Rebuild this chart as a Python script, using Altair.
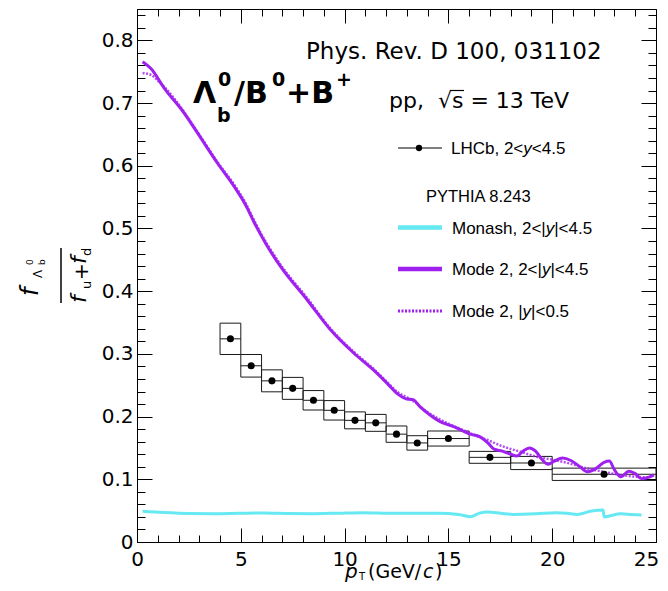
import altair as alt
import pandas as pd

# ---------------- data ----------------
lhcb_pt = [4.5, 5.5, 6.5, 7.5, 8.5, 9.5, 10.5, 11.5, 12.5, 13.5, 15, 17, 19, 22.5]
lhcb_lo = [4, 5, 6, 7, 8, 9, 10, 11, 12, 13, 14, 16, 18, 20]
lhcb_hi = [5, 6, 7, 8, 9, 10, 11, 12, 13, 14, 16, 18, 20, 25]
lhcb_val = [0.324, 0.281, 0.257, 0.245, 0.226, 0.210, 0.194, 0.190, 0.172, 0.158, 0.165, 0.135, 0.126, 0.108]
lhcb_syst = [0.025, 0.018, 0.0175, 0.0175, 0.0155, 0.0155, 0.0135, 0.0135, 0.013, 0.0115, 0.012, 0.0095, 0.0105, 0.0098]

mode2_fwd_pt = [0.27, 0.67, 1.31, 2.27, 2.92, 3.88, 4.68, 5.24, 5.64, 6.2, 6.92, 8.2, 9.33, 10.45, 11.4,
                12.05, 12.6, 13.0, 13.3, 13.65, 14.1, 14.6, 15.25, 16.06, 16.5, 16.9, 17.2, 17.6, 18.0,
                18.3, 18.6, 18.9, 19.2, 19.5, 19.8, 20.1, 20.5, 20.9, 21.3, 21.7, 22.1, 22.5, 22.75,
                23.0, 23.3, 23.7, 24.0, 24.3, 24.7, 24.9]
mode2_fwd_val = [0.766, 0.755, 0.724, 0.684, 0.652, 0.604, 0.567, 0.537, 0.510, 0.476, 0.439, 0.386, 0.338,
                 0.301, 0.274, 0.253, 0.235, 0.228, 0.227, 0.215, 0.203, 0.192, 0.184, 0.172, 0.168, 0.158,
                 0.148, 0.145, 0.140, 0.137, 0.145, 0.150, 0.145, 0.132, 0.124, 0.129, 0.134, 0.130, 0.121,
                 0.112, 0.117, 0.127, 0.129, 0.115, 0.104, 0.113, 0.109, 0.101, 0.104, 0.107]

mode2_cen_pt = [0.27, 0.67, 1.0, 1.31, 2.27, 2.92, 3.88, 4.68, 5.24, 5.64, 6.2, 6.92, 8.2, 9.33, 10.45,
                11.4, 12.05, 12.6, 13.0, 13.3, 14.0, 14.8, 15.6, 16.3, 16.86, 17.66, 18.46, 19.26, 20.06,
                20.87, 21.67, 22.47, 23.27, 24.07, 24.7]
mode2_cen_val = [0.748, 0.745, 0.736, 0.726, 0.686, 0.654, 0.606, 0.570, 0.540, 0.513, 0.479, 0.442, 0.389,
                 0.340, 0.303, 0.276, 0.255, 0.238, 0.231, 0.225, 0.207, 0.192, 0.180, 0.170, 0.163, 0.152,
                 0.144, 0.136, 0.131, 0.125, 0.1175, 0.112, 0.107, 0.104, 0.103]

monash_pt = [0.27, 1.3, 2.5, 3.7, 4.9, 6.1, 7.3, 8.5, 9.7, 10.9, 12.1, 13.3, 14.5, 15.5, 16.06, 16.5,
             16.86, 17.5, 18.1, 19.2, 20.2, 20.7, 21.2, 21.9, 22.45, 22.5, 22.8, 23.3, 23.8, 24.3]
monash_val = [0.049, 0.047, 0.0455, 0.0452, 0.0458, 0.0463, 0.0455, 0.0452, 0.046, 0.0468, 0.046, 0.0458,
              0.0458, 0.044, 0.0404, 0.046, 0.0478, 0.046, 0.044, 0.045, 0.0468, 0.046, 0.044, 0.0495,
              0.051, 0.040, 0.042, 0.045, 0.044, 0.043]

x_major = [0, 5, 10, 15, 20, 25]
x_minor = list(range(0, 26))
y_major = [0, 0.1, 0.2, 0.3, 0.4, 0.5, 0.6, 0.7, 0.8]
y_minor = [round(0.02 * i, 2) for i in range(43)]

# ---------------- layout ----------------
X0, Y0 = 137, 9          # page position of the plot origin
W, H = 519, 533
PURPLE = "#A020F0"
CYAN = "#66E9F2"
INK = "#1a1a1a"

xs = alt.Scale(domain=[0, 25], nice=False, zero=False)
ys = alt.Scale(domain=[0, 0.85], nice=False, zero=False)


def ax(orient, values, size, labels=False, **kw):
    return alt.Axis(orient=orient, values=values, tickSize=size, offset=-size, labels=labels,
                    domain=False, grid=False, title=None, ticks=True, tickColor="black",
                    tickWidth=1, **kw)


lab = dict(labelFont="DejaVu Sans", labelFontSize=20, labelColor="black",
           labelFlush=False, labelOverlap=False)
AX_B = ax("bottom", x_major, 14, True, labelPadding=7, format="d",
          labelOffset={"condition": {"test": "datum.value == 25", "value": -10}, "value": 0}, **lab)
AX_B2 = ax("bottom", x_minor, 7)
AX_T = ax("top", x_major, 14)
AX_T2 = ax("top", x_minor, 7)
AX_L = ax("left", y_major, 15, True, labelPadding=4,
          labelExpr="datum.value == 0 ? '0' : format(datum.value, '.1f')", **lab)
AX_L2 = ax("left", y_minor, 8)
AX_R = ax("right", y_major, 15)
AX_R2 = ax("right", y_minor, 8)

lhcb = pd.DataFrame({"pt": lhcb_pt, "lo": lhcb_lo, "hi": lhcb_hi, "val": lhcb_val, "syst": lhcb_syst})
lhcb["top"] = lhcb["val"] + lhcb["syst"]
lhcb["bot"] = lhcb["val"] - lhcb["syst"]

fwd = pd.DataFrame({"pt": mode2_fwd_pt, "val": mode2_fwd_val})
cen = pd.DataFrame({"pt": mode2_cen_pt, "val": mode2_cen_val})
mon = pd.DataFrame({"pt": monash_pt, "val": monash_val})

boxes = alt.Chart(lhcb).mark_rect(fill="white", fillOpacity=0, stroke=INK, strokeWidth=1).encode(
    x=alt.X("lo:Q", scale=xs, axis=AX_B), x2="hi:Q",
    y=alt.Y("top:Q", scale=ys, axis=AX_L), y2="bot:Q")

hbars = alt.Chart(lhcb).mark_rule(color=INK, strokeWidth=1).encode(
    x=alt.X("lo:Q", scale=xs, axis=AX_B2), x2="hi:Q",
    y=alt.Y("val:Q", scale=ys, axis=AX_L2))

points = alt.Chart(lhcb).mark_circle(size=50, color="black", opacity=1).encode(
    x=alt.X("pt:Q", scale=xs, axis=AX_T),
    y=alt.Y("val:Q", scale=ys, axis=AX_R))

monash = alt.Chart(mon).mark_line(color=CYAN, strokeWidth=3, interpolate="monotone").encode(
    x=alt.X("pt:Q", scale=xs, axis=AX_T2),
    y=alt.Y("val:Q", scale=ys, axis=AX_R2))

mode2c = alt.Chart(cen).mark_line(color=PURPLE, strokeWidth=2.5, strokeDash=[2, 1.5],
                                  interpolate="monotone", opacity=0.8).encode(
    x=alt.X("pt:Q", scale=xs, axis=None),
    y=alt.Y("val:Q", scale=ys, axis=None))

mode2f = alt.Chart(fwd).mark_line(color=PURPLE, strokeWidth=3, interpolate="monotone").encode(
    x=alt.X("pt:Q", scale=xs, axis=None),
    y=alt.Y("val:Q", scale=ys, axis=None))

one = alt.Data(values=[{"a": 1}])


def txt(s, x, y, size, font="DejaVu Sans", style="normal", weight="normal", angle=0):
    return alt.Chart(one).mark_text(text=s, font=font, fontSize=size, fontStyle=style,
                                    fontWeight=weight, align="left", baseline="alphabetic",
                                    angle=angle, color="black").encode(
        x=alt.value(x - X0), y=alt.value(y - Y0))


def hline(x1, x2, y, color, width, dash=None):
    kw = dict(color=color, strokeWidth=width)
    if dash:
        kw["strokeDash"] = dash
    return alt.Chart(one).mark_rule(**kw).encode(
        x=alt.value(x1 - X0), x2=alt.value(x2 - X0), y=alt.value(y - Y0))


LEG = "Liberation Sans"
ann = [
    # headline texts
    txt("Phys. Rev. D 100, 031102", 306, 59, 23),
    txt("Λ", 193, 103, 30, weight="bold"),
    txt("0", 218, 86, 19, weight="bold"),
    txt("b", 217, 122, 19, weight="bold"),
    txt("/B", 234, 103, 30, weight="bold"),
    txt("0", 272, 86, 19, weight="bold"),
    txt("+B", 286, 103, 30, weight="bold"),
    txt("+", 336, 86, 19, weight="bold"),
    txt("pp,\u00a0\u00a0√s = 13 TeV", 389, 108, 22),
    hline(450, 464, 90.5, "black", 1.2),
    # legend
    hline(398, 442, 148, "black", 1),
    alt.Chart(one).mark_circle(size=40, color="black", opacity=1).encode(
        x=alt.value(419 - X0), y=alt.value(148 - Y0)),
    txt("LHCb, 2<", 451, 154, 17, font=LEG),
    txt("y", 523.3, 154, 17, font=LEG, style="italic"),
    txt("<4.5", 531.8, 154, 17, font=LEG),
    txt("PYTHIA 8.243", 426, 202, 16.5, font=LEG),
    hline(398, 442, 227.5, CYAN, 4.5),
    txt("Monash, 2<|", 452, 233.5, 17, font=LEG),
    txt("y", 545.7, 233.5, 17, font=LEG, style="italic"),
    txt("|<4.5", 554.2, 233.5, 17, font=LEG),
    hline(398, 442, 269, PURPLE, 4.5),
    txt("Mode 2, 2<|", 452, 275, 17, font=LEG),
    txt("y", 541.9, 275, 17, font=LEG, style="italic"),
    txt("|<4.5", 550.4, 275, 17, font=LEG),
    hline(398, 442, 311, PURPLE, 3, [2, 1.5]),
    txt("Mode 2, |", 452, 317, 17, font=LEG),
    txt("y", 522.6, 317, 17, font=LEG, style="italic"),
    txt("|<0.5", 531.1, 317, 17, font=LEG),
    # x-axis title
    txt("p", 345, 578, 20, style="italic"),
    txt("T", 359, 580, 10),
    txt("(GeV/", 368, 578, 19),
    txt("c", 423, 578, 19, style="italic"),
    txt(")", 435, 578, 19),
    # y-axis title (rotated fraction)
    txt("f", 38, 296, 24, style="italic", angle=270),
    txt("Λ", 42, 278, 12, angle=270),
    txt("0", 33, 265, 9, angle=270),
    txt("b", 45, 265, 9, angle=270),
    alt.Chart(one).mark_rule(color="black", strokeWidth=1.5).encode(
        x=alt.value(61 - X0), y=alt.value(248 - Y0), y2=alt.value(303 - Y0)),
    txt("f", 86, 303, 22, style="italic", angle=270),
    txt("u", 91, 289, 13, angle=270),
    txt("+", 88, 280, 20, angle=270),
    txt("f", 86, 264, 22, style="italic", angle=270),
    txt("d", 91, 256, 13, angle=270),
]

chart = (
    alt.layer(boxes, hbars, monash, mode2c, mode2f, points, *ann)
    .resolve_scale(x="shared", y="shared")
    .resolve_axis(x="independent", y="independent")
    .properties(width=W, height=H, background="white",
                autosize=alt.AutoSizeParams(type="none"),
                padding={"left": 129, "top": 1, "right": 4, "bottom": 41})
    .configure_view(stroke="black", strokeWidth=1)
)

chart.save("out.html", embed_options={"renderer": "svg", "actions": False})
